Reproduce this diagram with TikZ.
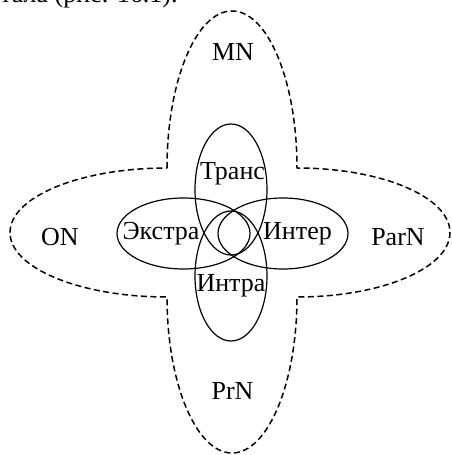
\documentclass[tikz,border=0pt]{standalone}
\usepackage{fontspec}
\setmainfont{Liberation Serif}
\begin{document}
\begin{tikzpicture}[x=1pt,y=1pt,
  lbl/.style={inner sep=0pt, anchor=base, font=\fontsize{26}{31}\selectfont},
  outer/.style={line width=1.5pt, dash pattern=on 6pt off 3.5pt},
  inner/.style={line width=1.2pt}]
\useasboundingbox (0,0) rectangle (452,455);
\clip (0,0) rectangle (452,455);
% outer dashed cross-shaped contour
\draw[outer] (167,287)
  arc[start angle=180, end angle=0, x radius=65, y radius=157]
  arc[start angle=90, end angle=-90, x radius=153, y radius=64.5]
  arc[start angle=0, end angle=-180, x radius=65, y radius=156]
  arc[start angle=270, end angle=90, x radius=157, y radius=64.5] -- cycle;
% inner ellipses
\draw[inner] (231,265.5) ellipse[x radius=36, y radius=65.5];
\draw[inner] (231,179) ellipse[x radius=36, y radius=65];
\draw[inner] (183.5,221.5) ellipse[x radius=66.5, y radius=35.5];
\draw[inner] (283,221.5) ellipse[x radius=65, y radius=35.5];
% labels
\node[lbl] (mn) at (233,394.5) {MN};
\node[lbl] (trans) at (232.5,275) {Транс};
\node[lbl] (ekstra) at (161,215) {Экстра};
\node[lbl] (inter) at (297.5,215) {Интер};
\node[lbl] (intra) at (231,163) {Интра};
\node[lbl] (on) at (60,209) {ON};
\node[lbl] (parn) at (398,209) {ParN};
\node[lbl] (prn) at (232.5,55) {PrN};
\node[lbl, anchor=base west] (top) at (0,452) {тала (рис. 16.1).};
\end{tikzpicture}
\end{document}
